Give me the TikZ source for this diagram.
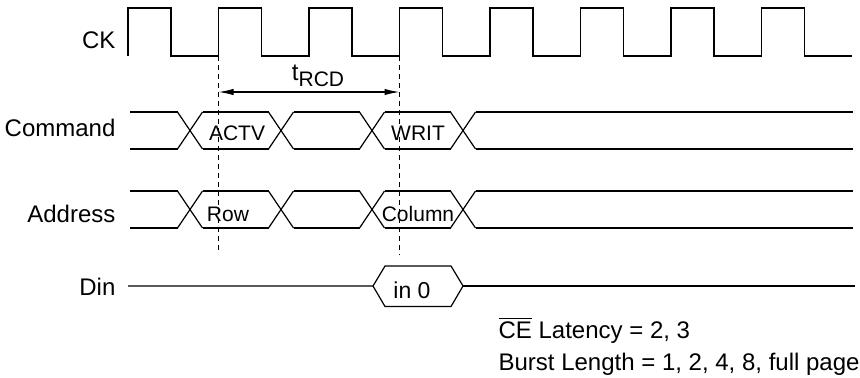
\documentclass[tikz,border=0pt]{standalone}
\usepackage{fontspec}
\setmainfont{Liberation Sans}
\usetikzlibrary{arrows.meta}
\def\xing(#1)(#2:#3){\draw ({#1-12.5},#2) -- ({#1+12.5},#3) ({#1-12.5},#3) -- ({#1+12.5},#2);}
\def\busline(#1:#2)(#3:#4){\draw (#1,#3) -- (#2,#3) (#1,#4) -- (#2,#4);}
\tikzset{
	sig/.style={anchor=east, inner sep=0pt, font=\fontsize{12}{14}\selectfont},
	buslabel/.style={inner sep=0pt, font=\fontsize{10.5}{12}\selectfont},
	note/.style={anchor=base west, inner sep=0pt, font=\fontsize{12}{14}\selectfont},
	edge/.style={dash pattern=on 2.5pt off 2pt},
}

\begin{document}
\begin{tikzpicture}[x=0.5pt, y=-0.5pt, line width=0.6pt]
			%%%%% START %%%%%
			\useasboundingbox (0, 0) rectangle (860, 377);
			
			\node[sig] (ck) at (116, 40) {CK};
			\node[sig] (cmd) at (116, 128) {Command};
			\node[sig] (addr) at (116, 214) {Address};
			\node[sig] (din) at (116, 287) {Din};
			
			\draw (128, 56) -- (128, 8) -- (171, 8) -- (171, 56) -- (218.5, 56) -- (218.5, 8) -- (261.5, 8) -- (261.5, 56)
				-- (309, 56) -- (309, 8) -- (352, 8) -- (352, 56) -- (399.5, 56) -- (399.5, 8) -- (442.5, 8) -- (442.5, 56)
				-- (490, 56) -- (490, 8) -- (533, 8) -- (533, 56) -- (580.5, 56) -- (580.5, 8) -- (623.5, 8) -- (623.5, 56)
				-- (671, 56) -- (671, 8) -- (714, 8) -- (714, 56) -- (761.5, 56) -- (761.5, 8) -- (804.5, 8) -- (804.5, 56) -- (852, 56);
			
			\coordinate (act) at (218.5, 56);
			\coordinate (actend) at (218.5, 250);
			\coordinate (wr) at (399.5, 56);
			\coordinate (wrend) at (399.5, 255);
			\draw[edge] (act) -- (actend);
			\draw[edge] (wr) -- (wrend);
			
			\coordinate (trcdl) at (218.5, 92);
			\coordinate (trcdr) at (399.5, 92);
			\draw[{Latex[length=7.5pt,width=3.2pt]}-{Latex[length=7.5pt,width=3.2pt]}] (trcdl) -- (trcdr);
			\node[inner sep=0pt, font=\fontsize{12}{14}\selectfont] (trcd) at (318, 76) {t\raisebox{-0.45ex}{\fontsize{10.5}{12}\selectfont RCD}};
			
			% command
			\busline(130:177.5)(112:149)
			\xing(190)(112:149)
			\busline(202.5:268.5)(112:149)
			\xing(281)(112:149)
			\busline(293.5:359.5)(112:149)
			\xing(372)(112:149)
			\busline(384.5:450.5)(112:149)
			\xing(463)(112:149)
			\busline(475.5:853)(112:149)
			\node[buslabel] (actv) at (237, 133) {ACTV};
			\node[buslabel] (writ) at (418, 133) {WRIT};
			
			% address
			\busline(130:177.5)(191:228)
			\xing(190)(191:228)
			\busline(202.5:268.5)(191:228)
			\xing(281)(191:228)
			\busline(293.5:359.5)(191:228)
			\xing(372)(191:228)
			\busline(384.5:450.5)(191:228)
			\xing(463)(191:228)
			\busline(475.5:853)(191:228)
			\node[buslabel] (row) at (228, 214) {Row};
			\node[buslabel] (col) at (418, 214) {Column};
			
			% din
			\draw (128, 286) -- (373, 286) -- (385, 266) -- (451, 266) -- (463, 286) -- (451, 306.5) -- (385, 306.5) -- (373, 286);
			\draw (463, 286) -- (855, 286);
			\node[inner sep=0pt, font=\fontsize{11.5}{14}\selectfont] (in0) at (412, 290) {in 0};
			
			\node[note] (lat) at (498, 338) {$\overline{\mbox{CE}}$ Latency = 2, 3};
			\node[note] (burst) at (498, 370) {Burst Length = 1, 2, 4, 8, full page};
			
			%%%%% END %%%%%
		\end{tikzpicture}
\end{document}
